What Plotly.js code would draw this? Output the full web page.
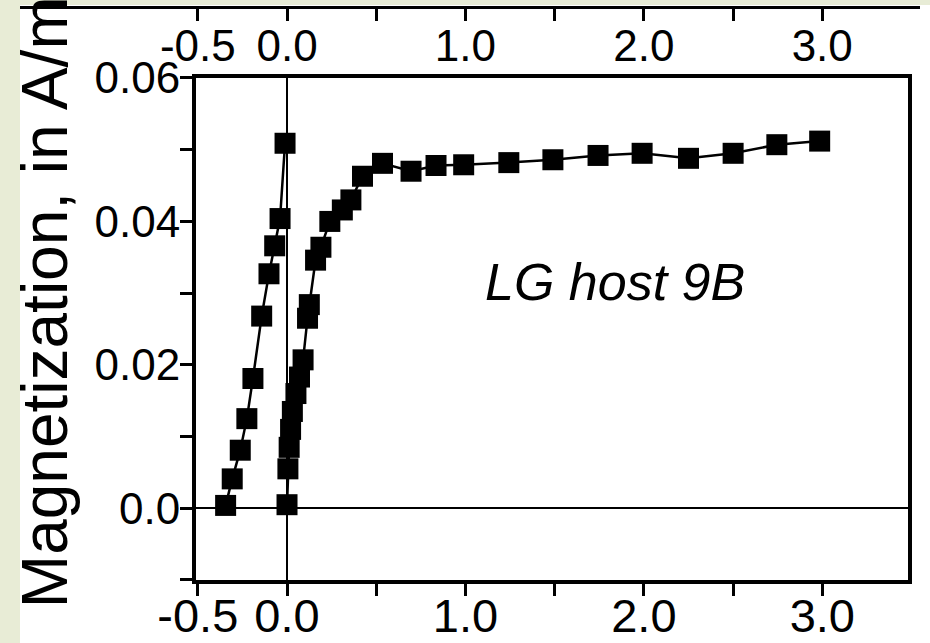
<!DOCTYPE html>
<html><head><meta charset="utf-8">
<script src="https://cdn.plot.ly/plotly-3.0.1.min.js"></script>
<style>html,body{margin:0;padding:0;background:#e8ecd6;overflow:hidden;}</style>
</head><body><div id="chart" style="width:930px;height:643px;"></div>
<script>
// Data
const leftBranchField = [-0.344, -0.307, -0.262, -0.225, -0.191, -0.142, -0.101, -0.069, -0.039, -0.011];
const leftBranchMag   = [0.0004, 0.0041, 0.0081, 0.0125, 0.0181, 0.0268, 0.0327, 0.0366, 0.0404, 0.0509];
const rightBranchField = [0.0, 0.005, 0.012, 0.02, 0.03, 0.05, 0.07, 0.09, 0.115, 0.125, 0.16, 0.19, 0.24, 0.31, 0.358, 0.423, 0.535, 0.695, 0.835, 0.99, 1.243, 1.49, 1.743, 1.99, 2.25, 2.50, 2.745, 2.985];
const rightBranchMag   = [0.0005, 0.0055, 0.0085, 0.011, 0.0135, 0.016, 0.0183, 0.0207, 0.0265, 0.0284, 0.0346, 0.0364, 0.0400, 0.0416, 0.0430, 0.0463, 0.0481, 0.0470, 0.0478, 0.0479, 0.0482, 0.0486, 0.0492, 0.0495, 0.0488, 0.0495, 0.0507, 0.0512];
const xTickVals = [-0.5, 0, 0.5, 1, 1.5, 2, 2.5, 3];
const xTickText = ['-0.5', '0.0', '', '1.0', '', '2.0', '', '3.0'];
const yTickVals = [-0.01, 0, 0.01, 0.02, 0.03, 0.04, 0.05, 0.06];
const yTickText = ['', '0.0', '', '0.02', '', '0.04', '', '0.06'];
const yTitle = 'Magnetization, in A/m';
const sampleLabel = 'LG host 9B';

const FONT = 'Liberation Sans, Arial, Helvetica, sans-serif';

const markerStyle = {symbol: 'square', size: 21, color: '#000'};
const lineStyle = {color: '#000', width: 2.5};

const traces = [
  {x: leftBranchField, y: leftBranchMag, mode: 'lines+markers', marker: markerStyle, line: lineStyle, showlegend: false, name: 'branch 1'},
  {x: rightBranchField, y: rightBranchMag, mode: 'lines+markers', marker: markerStyle, line: lineStyle, showlegend: false, name: 'branch 2'},
  {x: [null], y: [null], xaxis: 'x2', yaxis: 'y2', showlegend: false, hoverinfo: 'skip'}
];

const layout = {
  width: 930, height: 643,
  margin: {l: 20, r: 10, t: 0, b: 63, pad: 0},
  paper_bgcolor: '#e8ecd6',
  plot_bgcolor: 'rgba(0,0,0,0)',
  showlegend: false,
  xaxis: {
    domain: [0.19556, 0.98667], range: [-0.51, 3.48], anchor: 'y',
    tickmode: 'array', tickvals: xTickVals, ticktext: xTickText,
    ticks: 'outside', ticklen: 12, tickwidth: 3, tickcolor: '#000',
    showline: true, linewidth: 4, linecolor: '#000', mirror: true,
    showgrid: false, zeroline: true, zerolinecolor: '#000', zerolinewidth: 2,
    tickfont: {family: FONT, size: 47, color: '#000'}, automargin: false,
    ticklabelstandoff: -20
  },
  yaxis: {
    domain: [0, 0.86552], range: [-0.01, 0.06], anchor: 'x',
    tickmode: 'array', tickvals: yTickVals, ticktext: yTickText,
    ticks: 'outside', ticklen: 12, tickwidth: 3, tickcolor: '#000',
    showline: true, linewidth: 4, linecolor: '#000', mirror: true,
    showgrid: false, zeroline: true, zerolinecolor: '#000', zerolinewidth: 2,
    tickfont: {family: FONT, size: 44, color: '#000'}, automargin: false,
    ticklabelstandoff: -9
  },
  xaxis2: {
    domain: [0, 1], range: [-1.4966, 3.548], anchor: 'y2', side: 'bottom',
    tickmode: 'array', tickvals: xTickVals, ticktext: xTickText,
    ticks: 'outside', ticklen: 12, tickwidth: 3, tickcolor: '#000',
    showline: true, linewidth: 3, linecolor: '#000', mirror: false,
    showgrid: false, zeroline: false,
    tickfont: {family: FONT, size: 44, color: '#000'}, automargin: false,
    ticklabelstandoff: -13
  },
  yaxis2: {domain: [0.98966, 1], range: [0, 1], anchor: 'x2', visible: false},
  shapes: [
    {type: 'rect', xref: 'paper', yref: 'paper', x0: 0, x1: 1.2, y0: -0.2, y1: 0.99138,
     fillcolor: '#ffffff', line: {width: 0}, layer: 'below'}
  ],
  annotations: [
    {text: sampleLabel, xref: 'x', yref: 'y', x: 1.84, y: 0.0316, showarrow: false,
     font: {family: FONT, size: 52, color: '#000', style: 'italic'}, xanchor: 'center', yanchor: 'middle'},
    {text: yTitle, xref: 'paper', yref: 'paper', x: 0.028, y: -0.0517, showarrow: false,
     textangle: -90, xanchor: 'center', yanchor: 'bottom',
     font: {family: FONT, size: 64, color: '#000'}}
  ]
};

Plotly.newPlot('chart', traces, layout, {displayModeBar: false, staticPlot: true});
</script></body></html>
